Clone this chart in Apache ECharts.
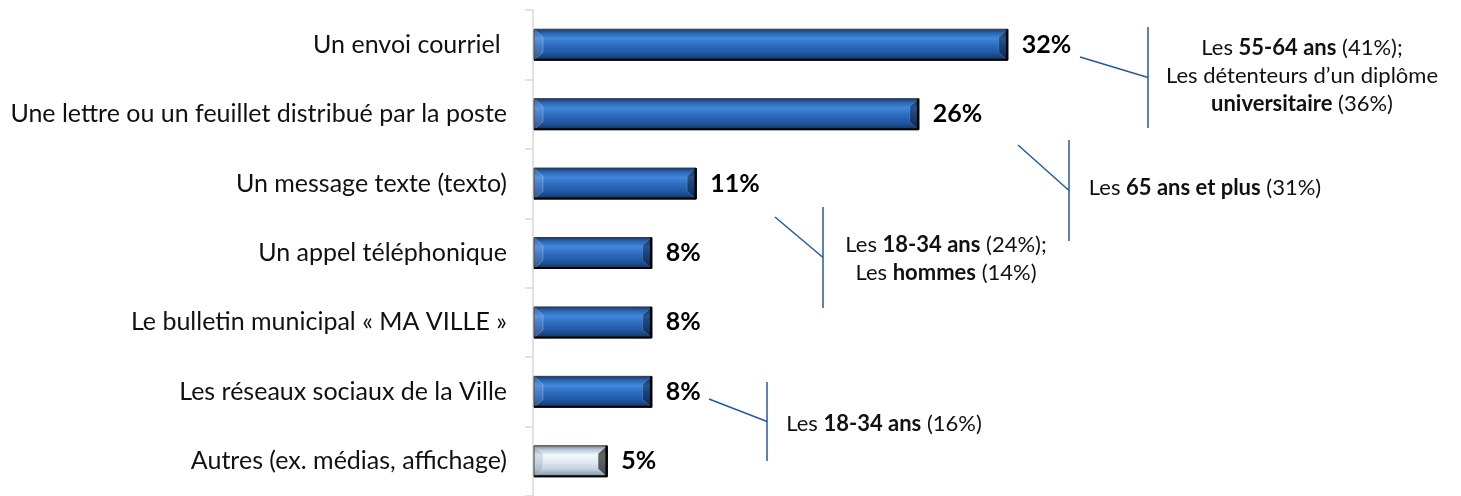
<!DOCTYPE html>
<html>
<head>
<meta charset="utf-8">
<script src="https://cdn.jsdelivr.net/npm/echarts@6/dist/echarts.min.js"></script>
<style>
  html, body { margin: 0; padding: 0; background: #fff; }
  #chart { width: 1461px; height: 496px; }
</style>
</head>
<body>
<div id="chart"></div>
<script>
// categories top to bottom
var categories = [
  'Un envoi courriel ',
  'Une lettre ou un feuillet distribué par la poste',
  'Un message texte (texto)',
  'Un appel téléphonique',
  'Le bulletin municipal « MA VILLE »',
  'Les réseaux sociaux de la Ville',
  'Autres (ex. médias, affichage)'
];
var values = [32, 26, 11, 8, 8, 8, 5];

var FONT = 'Lato';
var BAR_H = 31;
var BEVEL = 9;
var LINE_COLOR = '#2559a5';

var blueFace = new echarts.graphic.LinearGradient(0, 0, 0, 1, [
  { offset: 0, color: '#163a70' },
  { offset: 0.12, color: '#2a64b2' },
  { offset: 0.3, color: '#4188da' },
  { offset: 0.5, color: '#2f6ec2' },
  { offset: 0.75, color: '#2059a6' },
  { offset: 0.9, color: '#18447f' },
  { offset: 1, color: '#0f2a55' }
]);
var greyFace = new echarts.graphic.LinearGradient(0, 0, 0, 1, [
  { offset: 0, color: '#7a8692' },
  { offset: 0.12, color: '#b4c6d6' },
  { offset: 0.3, color: '#f2f8fc' },
  { offset: 0.5, color: '#e2ecf4' },
  { offset: 0.75, color: '#c2d2e0' },
  { offset: 0.9, color: '#98a9b8' },
  { offset: 1, color: '#6b757e' }
]);

function renderBevelBar(params, api) {
  var idx = api.value(0);
  var v = api.value(1);
  var p0 = api.coord([0, idx]);
  var p1 = api.coord([v, idx]);
  var x0 = p0[0] + 1, x1 = p1[0];
  var y0 = p0[1] - BAR_H / 2, y1 = p0[1] + BAR_H / 2;
  var d = BEVEL, dy = 8;
  var other = categories[idx].indexOf('Autres') === 0;
  return {
    type: 'group',
    children: [
      { type: 'rect', shape: { x: x0, y: y0, width: x1 - x0, height: BAR_H },
        style: { fill: other ? greyFace : blueFace } },
      { type: 'polygon', shape: { points: [[x0, y0], [x0 + d, y0 + dy], [x0 + d, y1 - dy], [x0, y1]] },
        style: { fill: other ? 'rgba(120,140,160,0.25)' : 'rgba(255,255,255,0.12)', stroke: 'rgba(255,255,255,0.3)', lineWidth: 0.8 } },
      { type: 'polygon', shape: { points: [[x1, y0], [x1 - d, y0 + dy], [x1 - d, y1 - dy], [x1, y1]] },
        style: { fill: other ? 'rgba(0,0,0,0.6)' : 'rgba(0,0,0,0.38)', stroke: 'rgba(255,255,255,0.2)', lineWidth: 0.8 } },
      { type: 'rect', shape: { x: x0, y: y0, width: x1 - x0, height: BAR_H },
        style: { fill: 'none', stroke: '#3a3a3a', lineWidth: 1 } },
      { type: 'line', shape: { x1: x0, y1: y1 - 0.5, x2: x1, y2: y1 - 0.5 },
        style: { stroke: '#050505', lineWidth: 2 } },
      { type: 'line', shape: { x1: x1 - 0.5, y1: y0, x2: x1 - 0.5, y2: y1 },
        style: { stroke: '#050505', lineWidth: 2.5 } }
    ]
  };
}

function note(x, y, text) {
  return {
    type: 'text', x: x, y: y, silent: true,
    style: {
      text: text, fontFamily: FONT, fontSize: 22, fill: '#111',
      align: 'center', verticalAlign: 'middle', lineHeight: 28,
      rich: {
        b: { fontFamily: FONT, fontSize: 22, fontWeight: 'bold', fill: '#111', lineHeight: 28 }
      }
    }
  };
}
function bracket(dx0, dy0, vx, vyTop, vyBot) {
  var vMid = (vyTop + vyBot) / 2;
  return [
    { type: 'line', silent: true, shape: { x1: vx, y1: vyTop, x2: vx, y2: vyBot },
      style: { stroke: LINE_COLOR, lineWidth: 1.5 } },
    { type: 'line', silent: true, shape: { x1: dx0, y1: dy0, x2: vx, y2: vMid },
      style: { stroke: LINE_COLOR, lineWidth: 1.5 } }
  ];
}

var chart = echarts.init(document.getElementById('chart'));
var option = {
  animation: false,
  grid: { left: 533, top: 10, width: 890, height: 490 },
  xAxis: { type: 'value', min: 0, max: 60, show: false },
  yAxis: {
    type: 'category',
    inverse: true,
    data: categories,
    axisLine: { lineStyle: { color: '#d9d9d9', width: 1.5 } },
    axisTick: { show: true, length: 8, lineStyle: { color: '#d9d9d9', width: 1.5 } },
    axisLabel: { margin: 26, color: '#111', fontFamily: FONT, fontSize: 25 }
  },
  series: [
    {
      type: 'bar',
      data: values,
      barWidth: BAR_H,
      itemStyle: { color: 'rgba(0,0,0,0)' },
      label: {
        show: true, position: 'right', distance: 14,
        formatter: '{c}%', color: '#000',
        fontFamily: FONT, fontWeight: 'bold', fontSize: 25
      },
      z: 3
    },
    {
      type: 'custom',
      renderItem: renderBevelBar,
      data: values.map(function (v, i) { return [i, v]; }),
      encode: { y: 0, x: 1 },
      silent: true,
      z: 2
    }
  ],
  graphic: [].concat(
    bracket(1080, 57, 1148, 27, 128),
    [note(1302, 76, 'Les {b|55-64 ans} (41%);\nLes détenteurs d’un diplôme\n{b|universitaire} (36%)')],
    bracket(1018, 145, 1069, 140, 241),
    [note(1205, 188, 'Les {b|65 ans et plus} (31%)')],
    bracket(775, 217, 823, 207, 308),
    [note(946, 259, 'Les {b|18-34 ans} (24%);\nLes {b|hommes} (14%)')],
    bracket(709, 399, 767, 382, 461),
    [note(884, 424, 'Les {b|18-34 ans} (16%)')]
  )
};
chart.setOption(option);
</script>
</body>
</html>
